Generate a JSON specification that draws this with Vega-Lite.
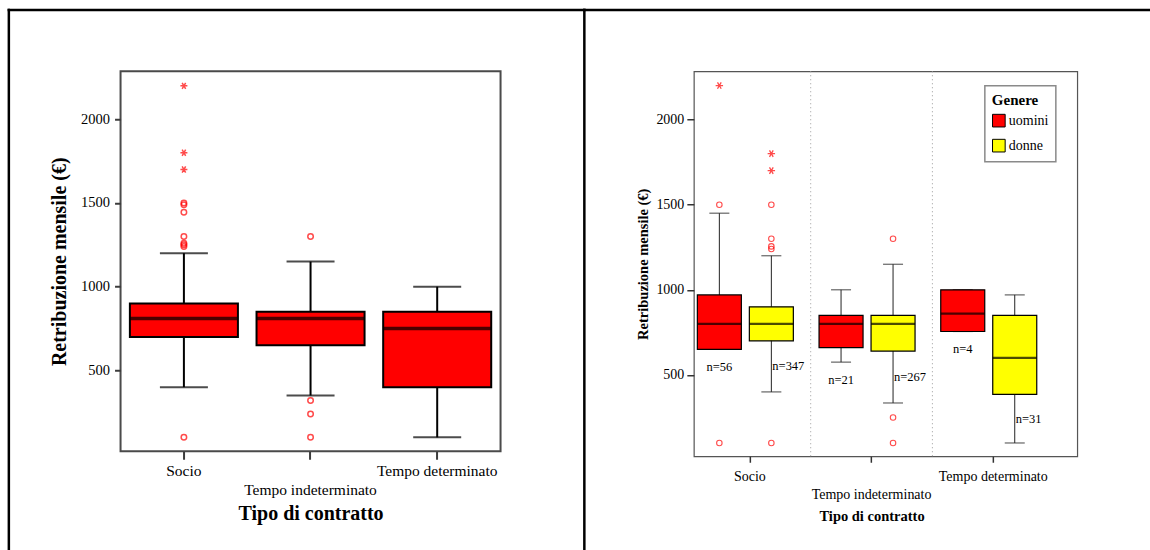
{
  "$schema": "https://vega.github.io/schema/vega-lite/v6.json",
  "padding": {"left": 6.55, "top": 8.25, "right": 0, "bottom": 0},
  "bounds": "flush",
  "spacing": 193.3,
  "config": {
    "font": "Liberation Serif",
    "view": {"stroke": null},
    "axis": {"grid": false, "labelColor": "black", "titleColor": "black", "labelFont": "Liberation Serif", "titleFont": "Liberation Serif"},
    "legend": {"labelFont": "Liberation Serif", "titleFont": "Liberation Serif", "strokeWidth": 1.5}
  },
  "datasets": {
    "totale": [
      {"contratto": "Socio", "lo": 400, "q1": 700, "mediana": 810, "q3": 900, "hi": 1200},
      {"contratto": "Tempo indeterminato", "lo": 350, "q1": 650, "mediana": 810, "q3": 850, "hi": 1150},
      {"contratto": "Tempo determinato", "lo": 100, "q1": 400, "mediana": 750, "q3": 850, "hi": 1000}
    ],
    "totaleOut": [
      {"contratto": "Socio", "valore": 2200, "tipo": "estremo"},
      {"contratto": "Socio", "valore": 1800, "tipo": "estremo"},
      {"contratto": "Socio", "valore": 1700, "tipo": "estremo"},
      {"contratto": "Socio", "valore": 1500, "tipo": "anomalo"},
      {"contratto": "Socio", "valore": 1490, "tipo": "anomalo"},
      {"contratto": "Socio", "valore": 1445, "tipo": "anomalo"},
      {"contratto": "Socio", "valore": 1300, "tipo": "anomalo"},
      {"contratto": "Socio", "valore": 1260, "tipo": "anomalo"},
      {"contratto": "Socio", "valore": 1250, "tipo": "anomalo"},
      {"contratto": "Socio", "valore": 1240, "tipo": "anomalo"},
      {"contratto": "Socio", "valore": 100, "tipo": "anomalo"},
      {"contratto": "Tempo indeterminato", "valore": 1300, "tipo": "anomalo"},
      {"contratto": "Tempo indeterminato", "valore": 320, "tipo": "anomalo"},
      {"contratto": "Tempo indeterminato", "valore": 240, "tipo": "anomalo"},
      {"contratto": "Tempo indeterminato", "valore": 100, "tipo": "anomalo"}
    ],
    "genere": [
      {"contratto": "Socio", "genere": "uomini", "n": 56, "lo": 650, "q1": 650, "mediana": 800, "q3": 970, "hi": 1450},
      {"contratto": "Socio", "genere": "donne", "n": 347, "lo": 400, "q1": 700, "mediana": 800, "q3": 900, "hi": 1200},
      {"contratto": "Tempo indeterminato", "genere": "uomini", "n": 21, "lo": 575, "q1": 660, "mediana": 800, "q3": 850, "hi": 1000},
      {"contratto": "Tempo indeterminato", "genere": "donne", "n": 267, "lo": 335, "q1": 640, "mediana": 800, "q3": 850, "hi": 1150},
      {"contratto": "Tempo determinato", "genere": "uomini", "n": 4, "lo": 755, "q1": 755, "mediana": 860, "q3": 1000, "hi": 1000},
      {"contratto": "Tempo determinato", "genere": "donne", "n": 31, "lo": 100, "q1": 385, "mediana": 600, "q3": 850, "hi": 970}
    ],
    "genereOut": [
      {"contratto": "Socio", "genere": "uomini", "valore": 2200, "tipo": "estremo"},
      {"contratto": "Socio", "genere": "uomini", "valore": 1500, "tipo": "anomalo"},
      {"contratto": "Socio", "genere": "uomini", "valore": 100, "tipo": "anomalo"},
      {"contratto": "Socio", "genere": "donne", "valore": 1800, "tipo": "estremo"},
      {"contratto": "Socio", "genere": "donne", "valore": 1700, "tipo": "estremo"},
      {"contratto": "Socio", "genere": "donne", "valore": 1500, "tipo": "anomalo"},
      {"contratto": "Socio", "genere": "donne", "valore": 1300, "tipo": "anomalo"},
      {"contratto": "Socio", "genere": "donne", "valore": 1255, "tipo": "anomalo"},
      {"contratto": "Socio", "genere": "donne", "valore": 1240, "tipo": "anomalo"},
      {"contratto": "Socio", "genere": "donne", "valore": 100, "tipo": "anomalo"},
      {"contratto": "Tempo indeterminato", "genere": "donne", "valore": 1300, "tipo": "anomalo"},
      {"contratto": "Tempo indeterminato", "genere": "donne", "valore": 250, "tipo": "anomalo"},
      {"contratto": "Tempo indeterminato", "genere": "donne", "valore": 100, "tipo": "anomalo"}
    ]
  },
  "hconcat": [
    {
      "width": 380,
      "height": 380,
      "view": {"stroke": "#4a4a4a", "strokeWidth": 2},
      "resolve": {"scale": {"x": "independent", "y": "independent"}, "axis": {"x": "independent", "y": "independent"}},
      "layer": [
        {
          "data": {"name": "totale"},
          "transform": [{"filter": "false"}],
          "mark": "point",
          "encoding": {
            "x": {"field": "mediana", "type": "quantitative", "scale": {"domain": [0, 1], "range": [-112.2, 463.3]},
              "axis": {"orient": "top", "offset": 61.8, "domainColor": "black", "domainWidth": 2.5, "domainCap": "square", "ticks": false, "labels": false, "title": null}},
            "y": {"field": "mediana", "type": "quantitative", "scale": {"domain": [0, 1], "range": [477.2, -61.8]},
              "axis": {"orient": "left", "offset": 112.2, "domainColor": "black", "domainWidth": 2.5, "domainCap": "square", "ticks": false, "labels": false, "title": null}}
          }
        },
        {
          "encoding": {
            "x": {
              "field": "contratto", "type": "nominal",
              "scale": {"domain": ["Socio", "Tempo indeterminato", "Tempo determinato"], "paddingInner": 0.147, "paddingOuter": 0.0737},
              "axis": {
                "orient": "bottom", "domain": false, "tickSize": 8, "tickWidth": 2, "tickColor": "#3c3c3c",
                "labelFontSize": 15.5, "labelAngle": 0, "labelOverlap": false, "labelBound": false, "labelFlush": false,
                "labelPadding": {"condition": {"test": "datum.value === 'Tempo indeterminato'", "value": 23}, "value": 4},
                "title": "Tipo di contratto", "titleFontSize": 20, "titleFontWeight": "bold", "titlePadding": 6
              }
            }
          },
          "layer": [
            {
              "data": {"name": "totale"},
              "mark": {"type": "rule", "color": "black", "strokeWidth": 2},
              "encoding": {
                "y": {"field": "lo", "type": "quantitative", "scale": {"domain": [17, 2287], "nice": false, "zero": false},
                  "axis": {"orient": "left", "domain": false, "values": [500, 1000, 1500, 2000], "format": "d", "tickSize": 6, "tickWidth": 2, "tickColor": "#3c3c3c",
                    "labelFontSize": 14.5, "labelPadding": 5, "titleFontSize": 20, "titleFontWeight": "bold", "titlePadding": 11},
                  "title": "Retribuzione mensile (€)"},
                "y2": {"field": "hi"}
              }
            },
            {
              "data": {"name": "totale"},
              "mark": {"type": "tick", "color": "black", "thickness": 2, "size": 48},
              "encoding": {"y": {"field": "lo", "type": "quantitative", "scale": {"domain": [17, 2287], "nice": false, "zero": false}, "title": "Retribuzione mensile (€)"}}
            },
            {
              "data": {"name": "totale"},
              "mark": {"type": "tick", "color": "black", "thickness": 2, "size": 48},
              "encoding": {"y": {"field": "hi", "type": "quantitative", "scale": {"domain": [17, 2287], "nice": false, "zero": false}, "title": "Retribuzione mensile (€)"}}
            },
            {
              "data": {"name": "totale"},
              "mark": {"type": "bar", "fill": "#ff0000", "stroke": "black", "strokeWidth": 2},
              "encoding": {
                "y": {"field": "q1", "type": "quantitative", "scale": {"domain": [17, 2287], "nice": false, "zero": false}, "title": "Retribuzione mensile (€)"},
                "y2": {"field": "q3"}
              }
            },
            {
              "data": {"name": "totale"},
              "mark": {"type": "tick", "color": "black", "thickness": 3.5, "size": 108},
              "encoding": {"y": {"field": "mediana", "type": "quantitative", "scale": {"domain": [17, 2287], "nice": false, "zero": false}, "title": "Retribuzione mensile (€)"}}
            },
            {
              "data": {"name": "totaleOut"},
              "transform": [{"filter": "datum.tipo === 'anomalo'"}],
              "mark": {"type": "point", "shape": "circle", "filled": false, "stroke": "#ff0000", "strokeWidth": 1.5, "size": 30},
              "encoding": {"y": {"field": "valore", "type": "quantitative", "scale": {"domain": [17, 2287], "nice": false, "zero": false}, "title": "Retribuzione mensile (€)"}}
            },
            {
              "data": {"name": "totaleOut"},
              "transform": [{"filter": "datum.tipo === 'estremo'"}],
              "mark": {"type": "point", "shape": "M-1,0L1,0M-0.5,-0.87L0.5,0.87M-0.5,0.87L0.5,-0.87", "filled": false, "stroke": "#ff0000", "strokeWidth": 1.5, "size": 49},
              "encoding": {"y": {"field": "valore", "type": "quantitative", "scale": {"domain": [17, 2287], "nice": false, "zero": false}, "title": "Retribuzione mensile (€)"}}
            }
          ]
        }
      ]
    },
    {
      "width": 383.4,
      "height": 385,
      "view": {"stroke": "#555555", "strokeWidth": 1.2},
      "resolve": {"scale": {"x": "independent", "y": "independent"}, "axis": {"x": "independent", "y": "independent"}},
      "layer": [
        {
          "data": {"name": "genere"},
          "transform": [{"filter": "false"}],
          "mark": "point",
          "encoding": {
            "x": {"field": "mediana", "type": "quantitative", "scale": {"domain": [0, 1], "range": [-110, 454.7]},
              "axis": {"orient": "top", "offset": 61.8, "domainColor": "black", "domainWidth": 2.5, "domainCap": "square", "ticks": false, "labels": false, "title": null}},
            "y": {"field": "mediana", "type": "quantitative", "scale": {"domain": [0, 1], "range": [477.2, -61.8]},
              "axis": {"orient": "left", "offset": 110, "domainColor": "black", "domainWidth": 2.5, "domainCap": "square", "ticks": false, "labels": false, "title": null}}
          }
        },
        {
          "encoding": {
            "x": {
              "field": "contratto", "type": "nominal",
              "scale": {"domain": ["Socio", "Tempo indeterminato", "Tempo determinato"], "range": [-4.85, 360.25], "paddingInner": 0, "paddingOuter": 0},
              "axis": {
                "orient": "bottom", "domain": false, "tickSize": 6, "tickWidth": 1.5, "tickColor": "#333333",
                "labelFontSize": 14, "labelAngle": 0, "labelOverlap": false, "labelBound": false, "labelFlush": false,
                "labelPadding": {"condition": {"test": "datum.value === 'Tempo indeterminato'", "value": 25}, "value": 7},
                "title": "Tipo di contratto", "titleFontSize": 14.5, "titleFontWeight": "bold", "titlePadding": 8
              }
            }
          },
          "layer": [
            {
              "data": {"name": "genere"},
              "transform": [{"filter": "datum.genere === 'uomini' && datum.contratto !== 'Socio'"}],
              "mark": {"type": "rule", "color": "#9a9a9a", "strokeWidth": 1, "strokeDash": [1, 3]},
              "encoding": {
                "x": {"field": "contratto", "type": "nominal", "bandPosition": 0}
              }
            },
            {
              "data": {"name": "genere"},
              "mark": {"type": "rule", "color": "#222222", "strokeWidth": 1},
              "encoding": {
                "xOffset": {"field": "genere", "type": "nominal", "scale": {"domain": ["uomini", "donne"], "range": [4.35, 108.35], "paddingInner": 0.1538, "paddingOuter": 0.0769}},
                "y": {"field": "lo", "type": "quantitative", "scale": {"domain": [22, 2284], "nice": false, "zero": false},
                  "axis": {"orient": "left", "domain": false, "values": [500, 1000, 1500, 2000], "format": "d", "tickSize": 7, "tickWidth": 1.5, "tickColor": "#333333",
                    "labelFontSize": 14, "labelPadding": 3, "titleFontSize": 14.5, "titleFontWeight": "bold", "titlePadding": 5},
                  "title": "Retribuzione mensile (€)"},
                "y2": {"field": "hi"}
              }
            },
            {
              "data": {"name": "genere"},
              "mark": {"type": "tick", "color": "#222222", "thickness": 1.2, "size": 20},
              "encoding": {
                "xOffset": {"field": "genere", "type": "nominal", "scale": {"domain": ["uomini", "donne"], "range": [4.35, 108.35], "paddingInner": 0.1538, "paddingOuter": 0.0769}},
                "y": {"field": "lo", "type": "quantitative", "scale": {"domain": [22, 2284], "nice": false, "zero": false}, "title": "Retribuzione mensile (€)"}
              }
            },
            {
              "data": {"name": "genere"},
              "mark": {"type": "tick", "color": "#222222", "thickness": 1.2, "size": 20},
              "encoding": {
                "xOffset": {"field": "genere", "type": "nominal", "scale": {"domain": ["uomini", "donne"], "range": [4.35, 108.35], "paddingInner": 0.1538, "paddingOuter": 0.0769}},
                "y": {"field": "hi", "type": "quantitative", "scale": {"domain": [22, 2284], "nice": false, "zero": false}, "title": "Retribuzione mensile (€)"}
              }
            },
            {
              "data": {"name": "genere"},
              "mark": {"type": "bar", "stroke": "black", "strokeWidth": 1.2},
              "encoding": {
                "xOffset": {"field": "genere", "type": "nominal", "scale": {"domain": ["uomini", "donne"], "range": [4.35, 108.35], "paddingInner": 0.1538, "paddingOuter": 0.0769}},
                "y": {"field": "q1", "type": "quantitative", "scale": {"domain": [22, 2284], "nice": false, "zero": false}, "title": "Retribuzione mensile (€)"},
                "y2": {"field": "q3"},
                "fill": {
                  "field": "genere", "type": "nominal",
                  "scale": {"domain": ["uomini", "donne"], "range": ["#ff0000", "#ffff00"]},
                  "legend": {
                    "title": "Genere", "orient": "none", "legendX": 864.3, "legendY": 14.4,
                    "titleFontSize": 15, "titleFontWeight": "bold", "titleColor": "black", "titlePadding": 6,
                    "labelFontSize": 14, "labelColor": "black", "labelOffset": 3,
                    "symbolType": "square", "symbolSize": 160, "symbolStrokeColor": "black", "symbolStrokeWidth": 1,
                    "rowPadding": 7, "padding": 7,
                    "fillColor": "white", "strokeColor": "#8a8a8a"
                  }
                }
              }
            },
            {
              "data": {"name": "genere"},
              "mark": {"type": "tick", "color": "black", "thickness": 2.2, "size": 44},
              "encoding": {
                "xOffset": {"field": "genere", "type": "nominal", "scale": {"domain": ["uomini", "donne"], "range": [4.35, 108.35], "paddingInner": 0.1538, "paddingOuter": 0.0769}},
                "y": {"field": "mediana", "type": "quantitative", "scale": {"domain": [22, 2284], "nice": false, "zero": false}, "title": "Retribuzione mensile (€)"}
              }
            },
            {
              "data": {"name": "genereOut"},
              "transform": [{"filter": "datum.tipo === 'anomalo'"}],
              "mark": {"type": "point", "shape": "circle", "filled": false, "stroke": "#ff0000", "strokeWidth": 1.1, "size": 30},
              "encoding": {
                "xOffset": {"field": "genere", "type": "nominal", "scale": {"domain": ["uomini", "donne"], "range": [4.35, 108.35], "paddingInner": 0.1538, "paddingOuter": 0.0769}},
                "y": {"field": "valore", "type": "quantitative", "scale": {"domain": [22, 2284], "nice": false, "zero": false}, "title": "Retribuzione mensile (€)"}
              }
            },
            {
              "data": {"name": "genereOut"},
              "transform": [{"filter": "datum.tipo === 'estremo'"}],
              "mark": {"type": "point", "shape": "M-1,0L1,0M-0.5,-0.87L0.5,0.87M-0.5,0.87L0.5,-0.87", "filled": false, "stroke": "#ff0000", "strokeWidth": 1.3, "size": 55},
              "encoding": {
                "xOffset": {"field": "genere", "type": "nominal", "scale": {"domain": ["uomini", "donne"], "range": [4.35, 108.35], "paddingInner": 0.1538, "paddingOuter": 0.0769}},
                "y": {"field": "valore", "type": "quantitative", "scale": {"domain": [22, 2284], "nice": false, "zero": false}, "title": "Retribuzione mensile (€)"}
              }
            },
            {
              "data": {"name": "genere"},
              "transform": [
                {"filter": "datum.genere === 'uomini'"},
                {"calculate": "'n=' + datum.n", "as": "etichetta"}
              ],
              "mark": {"type": "text", "align": "center", "baseline": "middle", "dy": 18, "fontSize": 12.5, "color": "black"},
              "encoding": {
                "xOffset": {"field": "genere", "type": "nominal", "scale": {"domain": ["uomini", "donne"], "range": [4.35, 108.35], "paddingInner": 0.1538, "paddingOuter": 0.0769}},
                "y": {"field": "lo", "type": "quantitative", "scale": {"domain": [22, 2284], "nice": false, "zero": false}, "title": "Retribuzione mensile (€)"},
                "text": {"field": "etichetta"}
              }
            },
            {
              "data": {"name": "genere"},
              "transform": [
                {"filter": "datum.genere === 'donne'"},
                {"calculate": "'n=' + datum.n", "as": "etichetta"},
                {"fold": ["q1", "lo"], "as": ["estremo", "livello"]}
              ],
              "mark": {"type": "text", "align": "left", "baseline": "middle", "dx": 1, "fontSize": 12.5, "color": "black"},
              "encoding": {
                "xOffset": {"field": "genere", "type": "nominal", "scale": {"domain": ["uomini", "donne"], "range": [4.35, 108.35], "paddingInner": 0.1538, "paddingOuter": 0.0769}},
                "y": {"field": "livello", "aggregate": "mean", "type": "quantitative", "scale": {"domain": [22, 2284], "nice": false, "zero": false}, "title": "Retribuzione mensile (€)"},
                "text": {"field": "etichetta"}
              }
            }
          ]
        }
      ]
    }
  ]
}
